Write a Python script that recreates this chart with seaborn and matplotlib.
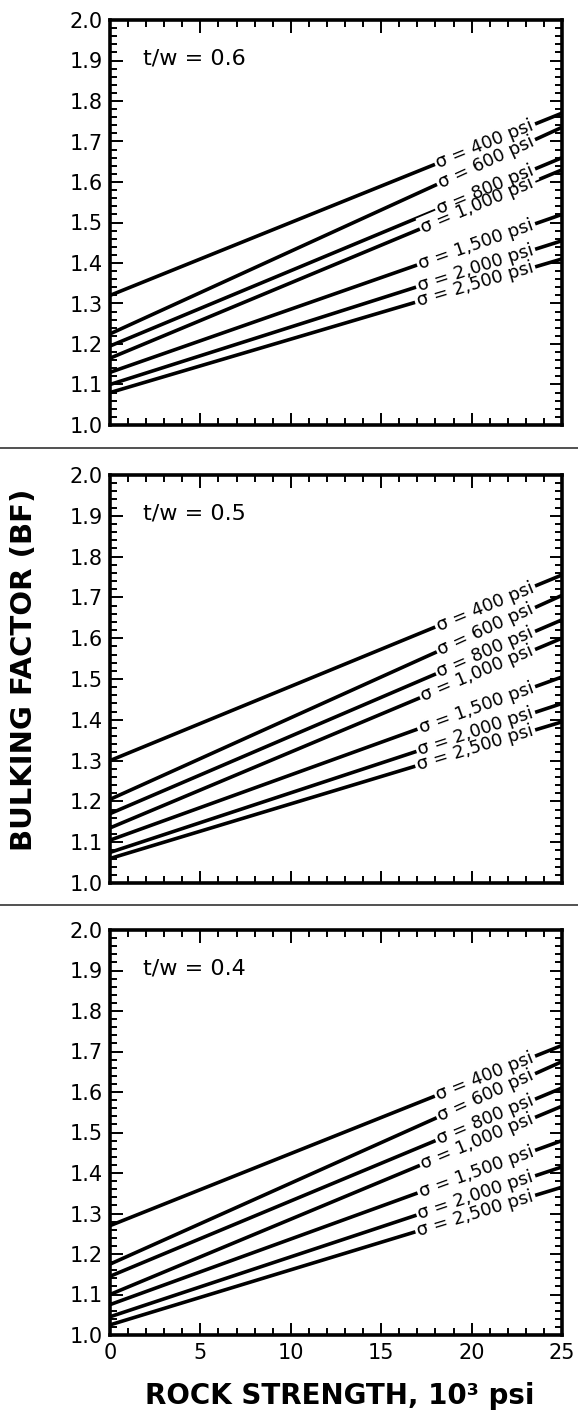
import matplotlib
matplotlib.use("Agg")
import matplotlib.pyplot as plt
import numpy as np
import pandas as pd
import seaborn as sns
from matplotlib.lines import Line2D
from matplotlib.ticker import MultipleLocator, FormatStrFormatter

# Rock strength (10^3 psi) at the two ends of each straight line
strength = [0, 25]

stress_labels = ["σ = 400 psi", "σ = 600 psi", "σ = 800 psi", "σ = 1,000 psi",
                 "σ = 1,500 psi", "σ = 2,000 psi", "σ = 2,500 psi"]

# Bulking factor at strength 0 and at strength 25, per t/w panel
bf_06_start = [1.32, 1.225, 1.195, 1.165, 1.13, 1.10, 1.08]
bf_06_end = [1.77, 1.735, 1.66, 1.63, 1.52, 1.455, 1.41]
bf_05_start = [1.30, 1.205, 1.17, 1.135, 1.105, 1.075, 1.06]
bf_05_end = [1.755, 1.705, 1.645, 1.60, 1.505, 1.44, 1.395]
bf_04_start = [1.27, 1.175, 1.145, 1.10, 1.075, 1.045, 1.025]
bf_04_end = [1.715, 1.675, 1.61, 1.565, 1.48, 1.415, 1.365]

panel_titles = ["t/w = 0.6", "t/w = 0.5", "t/w = 0.4"]
panel_starts = [bf_06_start, bf_05_start, bf_04_start]
panel_ends = [bf_06_end, bf_05_end, bf_04_end]

sns.set_theme(style="white")
plt.rcParams["font.family"] = ["DejaVu Sans"]
plt.rcParams["text.color"] = "black"
plt.rcParams["xtick.color"] = "black"
plt.rcParams["ytick.color"] = "black"
plt.rcParams["xtick.labelcolor"] = "black"
plt.rcParams["ytick.labelcolor"] = "black"

W, H = 578, 1420
fig = plt.figure(figsize=(W / 100, H / 100), dpi=100)

# axes boxes in pixels: (top, bottom)
boxes = [(20, 425), (475, 883), (930, 1335)]
left_px, right_px = 110, 562

for i, (top, bot) in enumerate(boxes):
    ax = fig.add_axes([left_px / W, 1 - bot / H, (right_px - left_px) / W, (bot - top) / H])

    rows = []
    for lab, y0, y1 in zip(stress_labels, panel_starts[i], panel_ends[i]):
        rows.append({"strength": strength[0], "bf": y0, "stress": lab})
        rows.append({"strength": strength[1], "bf": y1, "stress": lab})
    df = pd.DataFrame(rows)

    sns.lineplot(data=df, x="strength", y="bf", hue="stress",
                 palette=["black"] * len(stress_labels), legend=False,
                 linewidth=2.6, ax=ax, zorder=2)

    ax.set_xlim(0, 25)
    ax.set_ylim(1.0, 2.0)
    ax.set_xlabel("")
    ax.set_ylabel("")

    # labels on the lines, masked with white so the line is broken
    for color, box in (("white", True), ("black", False)):
        for lab, y0, y1 in zip(stress_labels, panel_starts[i], panel_ends[i]):
            p0 = ax.transData.transform((strength[0], y0))
            p1 = ax.transData.transform((strength[1], y1))
            ang = np.degrees(np.arctan2(p1[1] - p0[1], p1[0] - p0[0]))
            xa = 23.4
            ya = y0 + (y1 - y0) * xa / 25
            kw = dict(bbox=dict(facecolor="white", edgecolor="none", pad=1.5)) if box else {}
            ax.text(xa, ya, lab, fontsize=13, rotation=ang, rotation_mode="anchor",
                    ha="right", va="center", color=color, zorder=3 if box else 4, **kw)

    ax.text(1.8, 1.905, panel_titles[i], fontsize=16, ha="left", va="center")

    ax.xaxis.set_major_locator(MultipleLocator(5))
    ax.xaxis.set_minor_locator(MultipleLocator(1))
    ax.yaxis.set_major_locator(MultipleLocator(0.1))
    ax.yaxis.set_minor_locator(MultipleLocator(0.02))
    ax.yaxis.set_major_formatter(FormatStrFormatter("%.1f"))
    ax.tick_params(which="both", direction="in", top=True, right=True,
                   bottom=True, left=True, color="black", width=1.4)
    ax.tick_params(which="major", length=9, labelsize=15, pad=5)
    ax.tick_params(which="minor", length=5)
    if i < 2:
        ax.tick_params(axis="x", labelbottom=False)
    else:
        ax.tick_params(axis="x", pad=6)
    for s in ax.spines.values():
        s.set_visible(True)
        s.set_color("black")
        s.set_linewidth(2.6)

# separator rules between panels
for yp in (448, 905):
    fig.add_artist(Line2D([0, 1], [1 - yp / H, 1 - yp / H], color="#333333", linewidth=1.2))

fig.text(24 / W, 1 - 670 / H, "BULKING FACTOR (BF)", rotation=90, fontsize=21,
         fontweight="bold", ha="center", va="center")
fig.text(340 / W, 1 - 1396 / H, "ROCK STRENGTH, 10³ psi", fontsize=20,
         fontweight="bold", ha="center", va="center")

fig.savefig("out.png", dpi=100, facecolor="white")
